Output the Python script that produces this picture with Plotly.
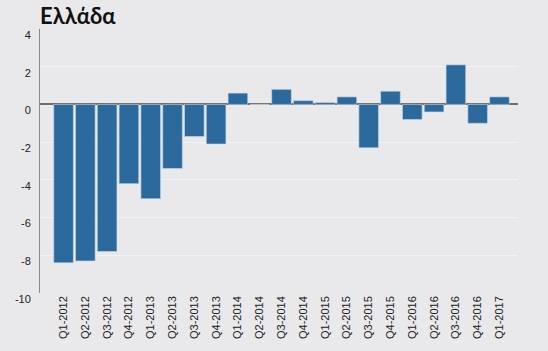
import plotly.graph_objects as go

categories = ["Q1-2012", "Q2-2012", "Q3-2012", "Q4-2012", "Q1-2013", "Q2-2013",
              "Q3-2013", "Q4-2013", "Q1-2014", "Q2-2014", "Q3-2014", "Q4-2014",
              "Q1-2015", "Q2-2015", "Q3-2015", "Q4-2015", "Q1-2016", "Q2-2016",
              "Q3-2016", "Q4-2016", "Q1-2017"]
values = [-8.4, -8.3, -7.8, -4.2, -5.0, -3.4, -1.7, -2.1, 0.6, 0.0, 0.8, 0.2,
          0.1, 0.4, -2.3, 0.7, -0.8, -0.4, 2.1, -1.0, 0.4]
y_ticks = [4, 2, 0, -2, -4, -6, -8, -10]

bg = "#e9e9eb"
fig = go.Figure(go.Bar(
    x=categories, y=values,
    marker=dict(color="#2c6a9e", line=dict(color="#c9d6e2", width=0.6)),
    hoverinfo="x+y",
))
fig.update_layout(
    width=548, height=351,
    paper_bgcolor=bg, plot_bgcolor=bg,
    margin=dict(l=40, r=30, t=29, b=56),
    bargap=0.1,
    showlegend=False,
    title=dict(text="<b>Ελλάδα</b>", x=40/548, xanchor="left", y=1-16/351, yanchor="middle",
               font=dict(family="Lato, sans-serif", size=22, color="#111111")),
    xaxis=dict(
        type="category", range=[-1.08, 20.85], tickangle=-90,
        tickfont=dict(family="Liberation Sans, Arial", size=11, color="#222222"),
        showgrid=False, showline=False, ticks="",
    ),
    yaxis=dict(
        range=[-10, 4], tickvals=y_ticks, ticktext=[str(v) for v in y_ticks],
        tickfont=dict(family="Liberation Sans, Arial", size=11, color="#222222"),
        showgrid=True, gridcolor="#f3f3f5", gridwidth=1,
        zeroline=True, zerolinecolor="#6e6e6e", zerolinewidth=1.5,
        showline=True, linecolor="#8a8a8a", linewidth=1,
        ticks="", ticklabelstandoff=6, ticklabelshift=6,
    ),
)
fig.write_html("out.html")
